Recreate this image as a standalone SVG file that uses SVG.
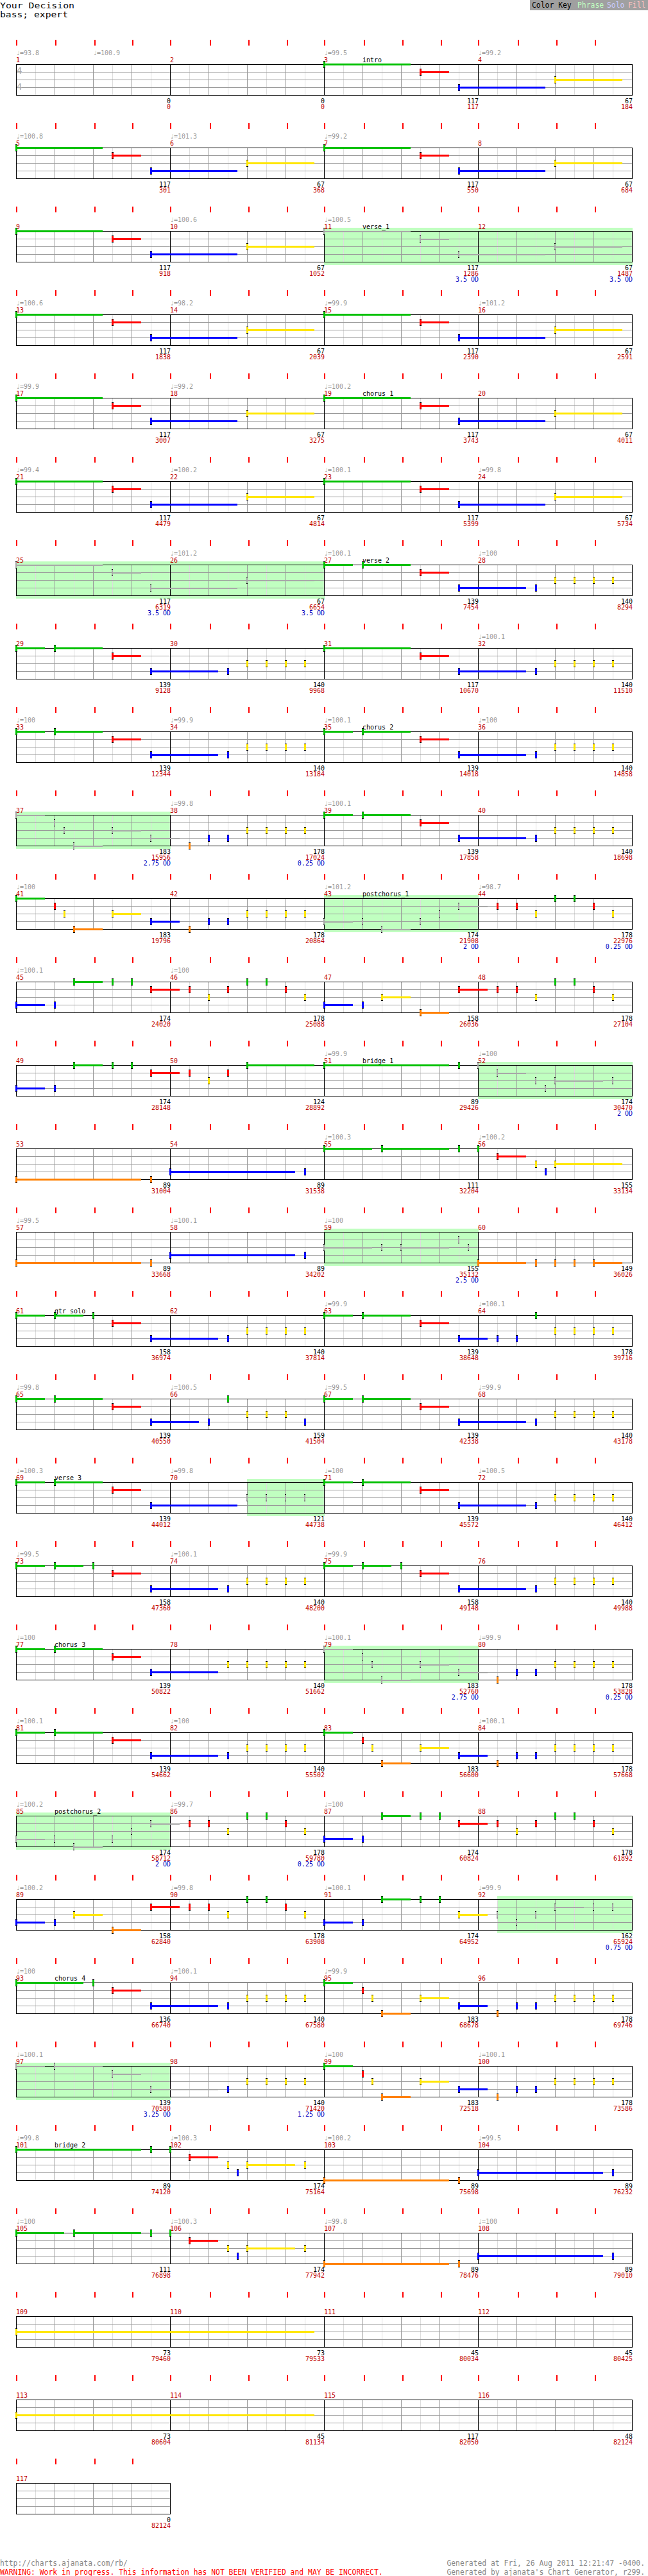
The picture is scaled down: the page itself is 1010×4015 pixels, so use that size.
<svg xmlns="http://www.w3.org/2000/svg" width="1010" height="4015" viewBox="0 0 1010 4015">
<style>
text{font-family:"DejaVu Sans Mono","Liberation Mono",monospace;font-size:10px}
.tp{fill:#999}
.mn{fill:#c00000}
.sc{text-anchor:end;fill:#000}
.cu{text-anchor:end;fill:#c00000}
.od{text-anchor:end;fill:#0000c0}
.g,.r,.y,.b,.o,.x{fill:none;stroke-width:3;shape-rendering:crispEdges}
.g{stroke:#00c000}.r{stroke:#f00}.y{stroke:#ffe600}.b{stroke:#00f}.o{stroke:#ff8000}.x{stroke:#a8a8a8;stroke-width:2}
.ph{fill:#c0ffc0}
.ft{font-size:11.4px}
</style>
<defs>
<g id="staff" shape-rendering="crispEdges" fill="none">
<path stroke="#ddd" d="M55.5 0V48M115.5 0V48M175.5 0V48M235.5 0V48M295.5 0V48M355.5 0V48M415.5 0V48M475.5 0V48M535.5 0V48M595.5 0V48M655.5 0V48M715.5 0V48M775.5 0V48M835.5 0V48M895.5 0V48M955.5 0V48"/>
<path stroke="#999" d="M85.5 0V48M145.5 0V48M205.5 0V48M325.5 0V48M385.5 0V48M445.5 0V48M565.5 0V48M625.5 0V48M685.5 0V48M805.5 0V48M865.5 0V48M925.5 0V48M25 12.5H985M25 24.5H985M25 36.5H985"/>
<path stroke="#000" d="M265.5 0V48M505.5 0V48M745.5 0V48"/>
<rect x="25.5" y="0.5" width="960" height="48" stroke="#000"/>
</g>
<g id="staff1" shape-rendering="crispEdges" fill="none">
<path stroke="#ddd" d="M55.5 0V48M115.5 0V48M175.5 0V48M235.5 0V48"/>
<path stroke="#999" d="M85.5 0V48M145.5 0V48M205.5 0V48M25 12.5H265M25 24.5H265M25 36.5H265"/>
<rect x="25.5" y="0.5" width="240" height="48" stroke="#000"/>
</g>
<g id="tk" fill="#f00" shape-rendering="crispEdges">
<rect x="25" y="-38" width="2" height="9"/><rect x="86" y="-38" width="2" height="9"/><rect x="147" y="-38" width="2" height="9"/><rect x="206" y="-38" width="2" height="9"/><rect x="265" y="-38" width="2" height="9"/><rect x="327" y="-38" width="2" height="9"/><rect x="387" y="-38" width="2" height="9"/><rect x="447" y="-38" width="2" height="9"/><rect x="505" y="-38" width="2" height="9"/><rect x="567" y="-38" width="2" height="9"/><rect x="627" y="-38" width="2" height="9"/><rect x="687" y="-38" width="2" height="9"/><rect x="745" y="-38" width="2" height="9"/><rect x="807" y="-38" width="2" height="9"/><rect x="867" y="-38" width="2" height="9"/><rect x="927" y="-38" width="2" height="9"/>
</g>
<g id="G" shape-rendering="crispEdges"><rect x="-1" y="-5" width="3" height="11"/><rect x="-1" y="-4" width="3" height="9" fill="#00c000"/></g>
<g id="R" shape-rendering="crispEdges"><rect x="-1" y="-5" width="3" height="11"/><rect x="-1" y="-4" width="3" height="9" fill="#f00"/></g>
<g id="Y" shape-rendering="crispEdges"><rect x="-1" y="-5" width="3" height="11"/><rect x="-1" y="-4" width="3" height="9" fill="#ffe600"/></g>
<g id="B" shape-rendering="crispEdges"><rect x="-1" y="-5" width="3" height="11"/><rect x="-1" y="-4" width="3" height="9" fill="#00f"/></g>
<g id="O" shape-rendering="crispEdges"><rect x="-1" y="-5" width="3" height="11"/><rect x="-1" y="-4" width="3" height="9" fill="#ff8000"/></g>
<g id="X" shape-rendering="crispEdges"><rect x="-1" y="-5" width="2" height="11"/><rect x="-1" y="-4" width="2" height="9" fill="#a8a8a8"/></g>
<g id="yt"><use href="#Y" x="385" y="24"/><use href="#Y" x="415" y="24"/><use href="#Y" x="445" y="24"/><use href="#Y" x="475" y="24"/></g>
<g id="pA"><path class="g" d="M25 .5H160"/><path class="r" d="M175 12.5H220"/><path class="b" d="M235 36.5H370"/><path class="y" d="M385 24.5H490"/><use href="#G" x="25"/><use href="#R" x="175" y="12"/><use href="#B" x="235" y="36"/><use href="#Y" x="385" y="24"/></g>
<g id="pAx"><path class="x" d="M25 .5H160M175 12.5H220M235 36.5H370M385 24.5H490"/><use href="#X" x="25"/><use href="#X" x="175" y="12"/><use href="#X" x="235" y="36"/><use href="#X" x="385" y="24"/></g>
<g id="pB"><path class="g" d="M25 .5H70M85 .5H160"/><path class="r" d="M175 12.5H220"/><path class="b" d="M235 36.5H340"/><use href="#G" x="25"/><use href="#G" x="85"/><use href="#R" x="175" y="12"/><use href="#B" x="235" y="36"/><use href="#B" x="355" y="36"/><use href="#yt"/></g>
<g id="pD"><path class="g" d="M25 .5H160"/><path class="r" d="M175 12.5H220"/><path class="b" d="M235 36.5H340"/><use href="#G" x="25"/><use href="#R" x="175" y="12"/><use href="#B" x="235" y="36"/><use href="#B" x="355" y="36"/><use href="#yt"/></g>
<g id="pE"><path class="g" d="M25 .5H70M85 .5H130"/><path class="r" d="M175 12.5H220"/><path class="b" d="M235 36.5H340"/><use href="#G" x="25"/><use href="#G" x="85"/><use href="#G" x="145"/><use href="#R" x="175" y="12"/><use href="#B" x="235" y="36"/><use href="#B" x="355" y="36"/><use href="#yt"/></g>
<g id="F2"><use href="#O" x="295" y="48"/><use href="#B" x="325" y="36"/><use href="#B" x="355" y="36"/><use href="#yt"/></g>
<g id="pF"><path class="g" d="M25 .5H70"/><path class="o" d="M115 48.5H160"/><path class="y" d="M175 24.5H220"/><path class="b" d="M235 36.5H280"/><use href="#G" x="25"/><use href="#R" x="85" y="12"/><use href="#Y" x="100" y="24"/><use href="#O" x="115" y="48"/><use href="#Y" x="175" y="24"/><use href="#B" x="235" y="36"/><use href="#F2"/></g>
<g id="pFx"><path class="x" d="M25 .5H70M115 48.5H160M175 24.5H220M235 36.5H280"/><use href="#X" x="25"/><use href="#X" x="85" y="12"/><use href="#X" x="100" y="24"/><use href="#X" x="115" y="48"/><use href="#X" x="175" y="24"/><use href="#X" x="235" y="36"/><use href="#F2"/></g>
<g id="J2"><use href="#G" x="385"/><use href="#G" x="415"/><use href="#R" x="445" y="12"/><use href="#Y" x="475" y="24"/></g>
<g id="pJ1"><path class="b" d="M25 36.5H70"/><path class="g" d="M115 .5H160"/><path class="r" d="M235 12.5H280"/><use href="#B" x="25" y="36"/><use href="#B" x="85" y="36"/><use href="#G" x="115"/><use href="#G" x="175"/><use href="#G" x="205"/><use href="#R" x="235" y="12"/><use href="#R" x="295" y="12"/><use href="#Y" x="325" y="24"/><use href="#R" x="355" y="12"/></g>
<g id="pJ"><use href="#pJ1"/><use href="#J2"/></g>
<g id="L2"><use href="#R" x="295" y="12"/><use href="#R" x="325" y="12"/><use href="#Y" x="355" y="24"/><use href="#J2"/></g>
<g id="pK"><path class="b" d="M25 36.5H70"/><path class="y" d="M115 24.5H160"/><path class="o" d="M175 48.5H220"/><path class="r" d="M235 12.5H280"/><use href="#B" x="25" y="36"/><use href="#B" x="85" y="36"/><use href="#Y" x="115" y="24"/><use href="#O" x="175" y="48"/><use href="#R" x="235" y="12"/><use href="#L2"/></g>
<g id="pL"><path class="x" d="M25 36.5H70M115 48.5H160M235 12.5H280"/><use href="#X" x="25" y="36"/><use href="#X" x="85" y="36"/><use href="#X" x="115" y="48"/><use href="#X" x="175" y="36"/><use href="#X" x="205" y="24"/><use href="#X" x="235" y="12"/><use href="#L2"/></g>
<g id="pM"><path class="o" d="M25 48.5H220"/><path class="b" d="M265 36.5H460"/><use href="#O" x="25" y="48"/><use href="#O" x="235" y="48"/><use href="#B" x="265" y="36"/><use href="#B" x="475" y="36"/></g>
<g id="pN"><path class="r" d="M295 12.5H340"/><path class="y" d="M385 24.5H460"/><path class="o" d="M505 48.5H700"/><path class="b" d="M745 36.5H940"/><use href="#G" x="235"/><use href="#G" x="265"/><use href="#R" x="295" y="12"/><use href="#Y" x="355" y="24"/><use href="#B" x="370" y="36"/><use href="#Y" x="385" y="24"/><use href="#Y" x="475" y="24"/><use href="#O" x="505" y="48"/><use href="#O" x="715" y="48"/><use href="#B" x="745" y="36"/><use href="#B" x="955" y="36"/></g>
</defs>
<rect width="1010" height="4015" fill="#fff"/>
<g id="header">
<text x="0" y="13" style="font-size:13px" textLength="116" lengthAdjust="spacingAndGlyphs">Your Decision</text>
<text x="0" y="27" style="font-size:13px" textLength="106" lengthAdjust="spacingAndGlyphs">bass; expert</text>
<rect x="826" y="0" width="184" height="16" fill="#a0a0a0"/>
<text class="ft" x="829" y="12">Color Key</text>
<text class="ft" x="900" y="12" fill="#c0ffc0">Phrase</text>
<text class="ft" x="946" y="12" fill="#ccccff">Solo</text>
<text class="ft" x="979" y="12" fill="#ffc0c0">Fill</text>
</g>

<g id="row1" transform="translate(0,100)">
<use href="#staff"/><use href="#tk"/>
<text x="26" y="15" style="font-size:14px" fill="#aaa">4</text><text x="26" y="40" style="font-size:14px" fill="#aaa">4</text>
<text class="tp" x="25" y="-14">♩=93.8</text><text class="tp" x="145" y="-14">♩=100.9</text><text class="tp" x="505" y="-14">♩=99.5</text><text class="tp" x="745" y="-14">♩=99.2</text>
<text class="mn" x="25" y="-3">1</text><text class="mn" x="265" y="-3">2</text><text class="mn" x="505" y="-3">3</text><text class="mn" x="745" y="-3">4</text>
<text x="565" y="-3">intro</text>
<use href="#pA" x="480"/>
<text class="sc" x="266" y="61">0</text><text class="cu" x="266" y="70">0</text><text class="sc" x="506" y="61">0</text><text class="cu" x="506" y="70">0</text><text class="sc" x="746" y="61">117</text><text class="cu" x="746" y="70">117</text><text class="sc" x="986" y="61">67</text><text class="cu" x="986" y="70">184</text>
</g>

<g id="row2" transform="translate(0,230)">
<use href="#staff"/><use href="#tk"/>
<text class="tp" x="25" y="-14">♩=100.8</text><text class="tp" x="265" y="-14">♩=101.3</text><text class="tp" x="505" y="-14">♩=99.2</text>
<text class="mn" x="25" y="-3">5</text><text class="mn" x="265" y="-3">6</text><text class="mn" x="505" y="-3">7</text><text class="mn" x="745" y="-3">8</text>
<use href="#pA"/><use href="#pA" x="480"/>
<text class="sc" x="266" y="61">117</text><text class="cu" x="266" y="70">301</text><text class="sc" x="506" y="61">67</text><text class="cu" x="506" y="70">368</text><text class="sc" x="746" y="61">117</text><text class="cu" x="746" y="70">550</text><text class="sc" x="986" y="61">67</text><text class="cu" x="986" y="70">684</text>
</g>

<g id="row3" transform="translate(0,360)">
<rect class="ph" x="505" y="-5" width="481" height="58"/>
<use href="#staff"/><use href="#tk"/>
<text class="tp" x="265" y="-14">♩=100.6</text><text class="tp" x="505" y="-14">♩=100.5</text>
<text class="mn" x="25" y="-3">9</text><text class="mn" x="265" y="-3">10</text><text class="mn" x="505" y="-3">11</text><text class="mn" x="745" y="-3">12</text>
<text x="565" y="-3">verse_1</text>
<use href="#pA"/><use href="#pAx" x="480"/>
<text class="sc" x="266" y="61">117</text><text class="cu" x="266" y="70">918</text><text class="sc" x="506" y="61">67</text><text class="cu" x="506" y="70">1052</text><text class="sc" x="746" y="61">117</text><text class="cu" x="746" y="70">1286</text><text class="od" x="746" y="79">3.5 OD</text><text class="sc" x="986" y="61">67</text><text class="cu" x="986" y="70">1487</text><text class="od" x="986" y="79">3.5 OD</text>
</g>

<g id="row4" transform="translate(0,490)">
<use href="#staff"/><use href="#tk"/>
<text class="tp" x="25" y="-14">♩=100.6</text><text class="tp" x="265" y="-14">♩=98.2</text><text class="tp" x="505" y="-14">♩=99.9</text><text class="tp" x="745" y="-14">♩=101.2</text>
<text class="mn" x="25" y="-3">13</text><text class="mn" x="265" y="-3">14</text><text class="mn" x="505" y="-3">15</text><text class="mn" x="745" y="-3">16</text>
<use href="#pA"/><use href="#pA" x="480"/>
<text class="sc" x="266" y="61">117</text><text class="cu" x="266" y="70">1838</text><text class="sc" x="506" y="61">67</text><text class="cu" x="506" y="70">2039</text><text class="sc" x="746" y="61">117</text><text class="cu" x="746" y="70">2390</text><text class="sc" x="986" y="61">67</text><text class="cu" x="986" y="70">2591</text>
</g>

<g id="row5" transform="translate(0,620)">
<use href="#staff"/><use href="#tk"/>
<text class="tp" x="25" y="-14">♩=99.9</text><text class="tp" x="265" y="-14">♩=99.2</text><text class="tp" x="505" y="-14">♩=100.2</text>
<text class="mn" x="25" y="-3">17</text><text class="mn" x="265" y="-3">18</text><text class="mn" x="505" y="-3">19</text><text class="mn" x="745" y="-3">20</text>
<text x="565" y="-3">chorus_1</text>
<use href="#pA"/><use href="#pA" x="480"/>
<text class="sc" x="266" y="61">117</text><text class="cu" x="266" y="70">3007</text><text class="sc" x="506" y="61">67</text><text class="cu" x="506" y="70">3275</text><text class="sc" x="746" y="61">117</text><text class="cu" x="746" y="70">3743</text><text class="sc" x="986" y="61">67</text><text class="cu" x="986" y="70">4011</text>
</g>

<g id="row6" transform="translate(0,750)">
<use href="#staff"/><use href="#tk"/>
<text class="tp" x="25" y="-14">♩=99.4</text><text class="tp" x="265" y="-14">♩=100.2</text><text class="tp" x="505" y="-14">♩=100.1</text><text class="tp" x="745" y="-14">♩=99.8</text>
<text class="mn" x="25" y="-3">21</text><text class="mn" x="265" y="-3">22</text><text class="mn" x="505" y="-3">23</text><text class="mn" x="745" y="-3">24</text>
<use href="#pA"/><use href="#pA" x="480"/>
<text class="sc" x="266" y="61">117</text><text class="cu" x="266" y="70">4479</text><text class="sc" x="506" y="61">67</text><text class="cu" x="506" y="70">4814</text><text class="sc" x="746" y="61">117</text><text class="cu" x="746" y="70">5399</text><text class="sc" x="986" y="61">67</text><text class="cu" x="986" y="70">5734</text>
</g>

<g id="row7" transform="translate(0,880)">
<rect class="ph" x="25" y="-5" width="481" height="58"/>
<use href="#staff"/><use href="#tk"/>
<text class="tp" x="265" y="-14">♩=101.2</text><text class="tp" x="505" y="-14">♩=100.1</text><text class="tp" x="745" y="-14">♩=100</text>
<text class="mn" x="25" y="-3">25</text><text class="mn" x="265" y="-3">26</text><text class="mn" x="505" y="-3">27</text><text class="mn" x="745" y="-3">28</text>
<text x="565" y="-3">verse_2</text>
<use href="#pAx"/><use href="#pB" x="480"/>
<text class="sc" x="266" y="61">117</text><text class="cu" x="266" y="70">6319</text><text class="od" x="266" y="79">3.5 OD</text><text class="sc" x="506" y="61">67</text><text class="cu" x="506" y="70">6654</text><text class="od" x="506" y="79">3.5 OD</text><text class="sc" x="746" y="61">139</text><text class="cu" x="746" y="70">7454</text><text class="sc" x="986" y="61">140</text><text class="cu" x="986" y="70">8294</text>
</g>

<g id="row8" transform="translate(0,1010)">
<use href="#staff"/><use href="#tk"/>
<text class="tp" x="745" y="-14">♩=100.1</text>
<text class="mn" x="25" y="-3">29</text><text class="mn" x="265" y="-3">30</text><text class="mn" x="505" y="-3">31</text><text class="mn" x="745" y="-3">32</text>
<use href="#pB"/><use href="#pD" x="480"/>
<text class="sc" x="266" y="61">139</text><text class="cu" x="266" y="70">9128</text><text class="sc" x="506" y="61">140</text><text class="cu" x="506" y="70">9968</text><text class="sc" x="746" y="61">117</text><text class="cu" x="746" y="70">10670</text><text class="sc" x="986" y="61">140</text><text class="cu" x="986" y="70">11510</text>
</g>

<g id="row9" transform="translate(0,1140)">
<use href="#staff"/><use href="#tk"/>
<text class="tp" x="25" y="-14">♩=100</text><text class="tp" x="265" y="-14">♩=99.9</text><text class="tp" x="505" y="-14">♩=100.1</text><text class="tp" x="745" y="-14">♩=100</text>
<text class="mn" x="25" y="-3">33</text><text class="mn" x="265" y="-3">34</text><text class="mn" x="505" y="-3">35</text><text class="mn" x="745" y="-3">36</text>
<text x="565" y="-3">chorus_2</text>
<use href="#pB"/><use href="#pB" x="480"/>
<text class="sc" x="266" y="61">139</text><text class="cu" x="266" y="70">12344</text><text class="sc" x="506" y="61">140</text><text class="cu" x="506" y="70">13184</text><text class="sc" x="746" y="61">139</text><text class="cu" x="746" y="70">14018</text><text class="sc" x="986" y="61">140</text><text class="cu" x="986" y="70">14858</text>
</g>

<g id="row10" transform="translate(0,1270)">
<rect class="ph" x="25" y="-5" width="241" height="58"/>
<use href="#staff"/><use href="#tk"/>
<text class="tp" x="265" y="-14">♩=99.8</text><text class="tp" x="505" y="-14">♩=100.1</text>
<text class="mn" x="25" y="-3">37</text><text class="mn" x="265" y="-3">38</text><text class="mn" x="505" y="-3">39</text><text class="mn" x="745" y="-3">40</text>
<use href="#pFx"/><use href="#pB" x="480"/>
<text class="sc" x="266" y="61">183</text><text class="cu" x="266" y="70">15956</text><text class="od" x="266" y="79">2.75 OD</text><text class="sc" x="506" y="61">178</text><text class="cu" x="506" y="70">17024</text><text class="od" x="506" y="79">0.25 OD</text><text class="sc" x="746" y="61">139</text><text class="cu" x="746" y="70">17858</text><text class="sc" x="986" y="61">140</text><text class="cu" x="986" y="70">18698</text>
</g>

<g id="row11" transform="translate(0,1400)">
<rect class="ph" x="505" y="-5" width="241" height="58"/>
<use href="#staff"/><use href="#tk"/>
<text class="tp" x="25" y="-14">♩=100</text><text class="tp" x="505" y="-14">♩=101.2</text><text class="tp" x="745" y="-14">♩=98.7</text>
<text class="mn" x="25" y="-3">41</text><text class="mn" x="265" y="-3">42</text><text class="mn" x="505" y="-3">43</text><text class="mn" x="745" y="-3">44</text>
<text x="565" y="-3">postchorus_1</text>
<use href="#pF"/><use href="#pL" x="480"/>
<text class="sc" x="266" y="61">183</text><text class="cu" x="266" y="70">19796</text><text class="sc" x="506" y="61">178</text><text class="cu" x="506" y="70">20864</text><text class="sc" x="746" y="61">174</text><text class="cu" x="746" y="70">21908</text><text class="od" x="746" y="79">2 OD</text><text class="sc" x="986" y="61">178</text><text class="cu" x="986" y="70">22976</text><text class="od" x="986" y="79">0.25 OD</text>
</g>

<g id="row12" transform="translate(0,1530)">
<use href="#staff"/><use href="#tk"/>
<text class="tp" x="25" y="-14">♩=100.1</text><text class="tp" x="265" y="-14">♩=100</text>
<text class="mn" x="25" y="-3">45</text><text class="mn" x="265" y="-3">46</text><text class="mn" x="505" y="-3">47</text><text class="mn" x="745" y="-3">48</text>
<use href="#pJ"/><use href="#pK" x="480"/>
<text class="sc" x="266" y="61">174</text><text class="cu" x="266" y="70">24020</text><text class="sc" x="506" y="61">178</text><text class="cu" x="506" y="70">25088</text><text class="sc" x="746" y="61">158</text><text class="cu" x="746" y="70">26036</text><text class="sc" x="986" y="61">178</text><text class="cu" x="986" y="70">27104</text>
</g>

<g id="row13" transform="translate(0,1660)">
<rect class="ph" x="745" y="-5" width="241" height="58"/>
<use href="#staff"/><use href="#tk"/>
<text class="tp" x="505" y="-14">♩=99.9</text><text class="tp" x="745" y="-14">♩=100</text>
<text class="mn" x="25" y="-3">49</text><text class="mn" x="265" y="-3">50</text><text class="mn" x="505" y="-3">51</text><text class="mn" x="745" y="-3">52</text>
<text x="565" y="-3">bridge_1</text>
<use href="#pJ1"/>
<path class="g" d="M385 .5H490M505 .5H700"/><use href="#G" x="385"/><use href="#G" x="505"/><use href="#G" x="715"/>
<path class="x" d="M775 12.5H820M865 24.5H940"/><use href="#X" x="745"/><use href="#X" x="775" y="12"/><use href="#X" x="835" y="24"/><use href="#X" x="850" y="36"/><use href="#X" x="865" y="24"/><use href="#X" x="955" y="24"/>
<text class="sc" x="266" y="61">174</text><text class="cu" x="266" y="70">28148</text><text class="sc" x="506" y="61">124</text><text class="cu" x="506" y="70">28892</text><text class="sc" x="746" y="61">89</text><text class="cu" x="746" y="70">29426</text><text class="sc" x="986" y="61">174</text><text class="cu" x="986" y="70">30470</text><text class="od" x="986" y="79">2 OD</text>
</g>

<g id="row14" transform="translate(0,1790)">
<use href="#staff"/><use href="#tk"/>
<text class="tp" x="505" y="-14">♩=100.3</text><text class="tp" x="745" y="-14">♩=100.2</text>
<text class="mn" x="25" y="-3">53</text><text class="mn" x="265" y="-3">54</text><text class="mn" x="505" y="-3">55</text><text class="mn" x="745" y="-3">56</text>
<use href="#pM"/>
<path class="g" d="M505 .5H580M595 .5H700"/><path class="r" d="M775 12.5H820"/><path class="y" d="M865 24.5H970"/>
<use href="#G" x="505"/><use href="#G" x="595"/><use href="#G" x="715"/><use href="#G" x="745"/><use href="#R" x="775" y="12"/><use href="#Y" x="835" y="24"/><use href="#B" x="850" y="36"/><use href="#Y" x="865" y="24"/>
<text class="sc" x="266" y="61">89</text><text class="cu" x="266" y="70">31004</text><text class="sc" x="506" y="61">89</text><text class="cu" x="506" y="70">31538</text><text class="sc" x="746" y="61">111</text><text class="cu" x="746" y="70">32204</text><text class="sc" x="986" y="61">155</text><text class="cu" x="986" y="70">33134</text>
</g>

<g id="row15" transform="translate(0,1920)">
<rect class="ph" x="505" y="-5" width="241" height="58"/>
<use href="#staff"/><use href="#tk"/>
<text class="tp" x="25" y="-14">♩=99.5</text><text class="tp" x="265" y="-14">♩=100.1</text><text class="tp" x="505" y="-14">♩=100</text>
<text class="mn" x="25" y="-3">57</text><text class="mn" x="265" y="-3">58</text><text class="mn" x="505" y="-3">59</text><text class="mn" x="745" y="-3">60</text>
<use href="#pM"/>
<path class="x" d="M505 24.5H580M625 24.5H700"/><use href="#X" x="505" y="24"/><use href="#X" x="595" y="24"/><use href="#X" x="625" y="24"/><use href="#X" x="715" y="12"/><use href="#X" x="730" y="24"/>
<path class="o" d="M745 48.5H820M925 48.5H970"/><use href="#O" x="745" y="48"/><use href="#O" x="835" y="48"/><use href="#O" x="865" y="48"/><use href="#O" x="895" y="48"/><use href="#O" x="925" y="48"/>
<text class="sc" x="266" y="61">89</text><text class="cu" x="266" y="70">33668</text><text class="sc" x="506" y="61">89</text><text class="cu" x="506" y="70">34202</text><text class="sc" x="746" y="61">155</text><text class="cu" x="746" y="70">35132</text><text class="od" x="746" y="79">2.5 OD</text><text class="sc" x="986" y="61">149</text><text class="cu" x="986" y="70">36026</text>
</g>

<g id="row16" transform="translate(0,2050)">
<use href="#staff"/><use href="#tk"/>
<text class="tp" x="505" y="-14">♩=99.9</text><text class="tp" x="745" y="-14">♩=100.1</text>
<text class="mn" x="25" y="-3">61</text><text class="mn" x="265" y="-3">62</text><text class="mn" x="505" y="-3">63</text><text class="mn" x="745" y="-3">64</text>
<text x="85" y="-3">gtr_solo</text>
<use href="#pE"/>
<path class="g" d="M505 .5H550M565 .5H640"/><path class="r" d="M655 12.5H700"/><path class="b" d="M715 36.5H760"/>
<use href="#G" x="505"/><use href="#G" x="565"/><use href="#R" x="655" y="12"/><use href="#B" x="715" y="36"/><use href="#B" x="775" y="36"/><use href="#B" x="805" y="36"/><use href="#G" x="835"/><use href="#yt" x="480"/>
<text class="sc" x="266" y="61">158</text><text class="cu" x="266" y="70">36974</text><text class="sc" x="506" y="61">140</text><text class="cu" x="506" y="70">37814</text><text class="sc" x="746" y="61">139</text><text class="cu" x="746" y="70">38648</text><text class="sc" x="986" y="61">178</text><text class="cu" x="986" y="70">39716</text>
</g>

<g id="row17" transform="translate(0,2180)">
<use href="#staff"/><use href="#tk"/>
<text class="tp" x="25" y="-14">♩=99.8</text><text class="tp" x="265" y="-14">♩=100.5</text><text class="tp" x="505" y="-14">♩=99.5</text><text class="tp" x="745" y="-14">♩=99.9</text>
<text class="mn" x="25" y="-3">65</text><text class="mn" x="265" y="-3">66</text><text class="mn" x="505" y="-3">67</text><text class="mn" x="745" y="-3">68</text>
<path class="g" d="M25 .5H70M85 .5H160"/><path class="r" d="M175 12.5H220"/><path class="b" d="M235 36.5H310"/>
<use href="#G" x="25"/><use href="#G" x="85"/><use href="#R" x="175" y="12"/><use href="#B" x="235" y="36"/><use href="#B" x="325" y="36"/><use href="#G" x="355"/><use href="#Y" x="385" y="24"/><use href="#Y" x="415" y="24"/><use href="#Y" x="445" y="24"/><use href="#B" x="475" y="36"/>
<use href="#pB" x="480"/>
<text class="sc" x="266" y="61">139</text><text class="cu" x="266" y="70">40550</text><text class="sc" x="506" y="61">159</text><text class="cu" x="506" y="70">41504</text><text class="sc" x="746" y="61">139</text><text class="cu" x="746" y="70">42338</text><text class="sc" x="986" y="61">140</text><text class="cu" x="986" y="70">43178</text>
</g>

<g id="row18" transform="translate(0,2310)">
<rect class="ph" x="385" y="-5" width="121" height="58"/>
<use href="#staff"/><use href="#tk"/>
<text class="tp" x="25" y="-14">♩=100.3</text><text class="tp" x="265" y="-14">♩=99.8</text><text class="tp" x="505" y="-14">♩=100</text><text class="tp" x="745" y="-14">♩=100.5</text>
<text class="mn" x="25" y="-3">69</text><text class="mn" x="265" y="-3">70</text><text class="mn" x="505" y="-3">71</text><text class="mn" x="745" y="-3">72</text>
<text x="85" y="-3">verse_3</text>
<path class="g" d="M25 .5H70M85 .5H160"/><path class="r" d="M175 12.5H220"/><path class="b" d="M235 36.5H370"/>
<use href="#G" x="25"/><use href="#G" x="85"/><use href="#R" x="175" y="12"/><use href="#B" x="235" y="36"/><use href="#X" x="385" y="24"/><use href="#X" x="415" y="24"/><use href="#X" x="445" y="24"/><use href="#X" x="475" y="24"/>
<use href="#pB" x="480"/>
<text class="sc" x="266" y="61">139</text><text class="cu" x="266" y="70">44012</text><text class="sc" x="506" y="61">121</text><text class="cu" x="506" y="70">44738</text><text class="sc" x="746" y="61">139</text><text class="cu" x="746" y="70">45572</text><text class="sc" x="986" y="61">140</text><text class="cu" x="986" y="70">46412</text>
</g>

<g id="row19" transform="translate(0,2440)">
<use href="#staff"/><use href="#tk"/>
<text class="tp" x="25" y="-14">♩=99.5</text><text class="tp" x="265" y="-14">♩=100.1</text><text class="tp" x="505" y="-14">♩=99.9</text>
<text class="mn" x="25" y="-3">73</text><text class="mn" x="265" y="-3">74</text><text class="mn" x="505" y="-3">75</text><text class="mn" x="745" y="-3">76</text>
<use href="#pE"/><use href="#pE" x="480"/>
<text class="sc" x="266" y="61">158</text><text class="cu" x="266" y="70">47360</text><text class="sc" x="506" y="61">140</text><text class="cu" x="506" y="70">48200</text><text class="sc" x="746" y="61">158</text><text class="cu" x="746" y="70">49148</text><text class="sc" x="986" y="61">140</text><text class="cu" x="986" y="70">49988</text>
</g>

<g id="row20" transform="translate(0,2570)">
<rect class="ph" x="505" y="-5" width="241" height="58"/>
<use href="#staff"/><use href="#tk"/>
<text class="tp" x="25" y="-14">♩=100</text><text class="tp" x="505" y="-14">♩=100.1</text><text class="tp" x="745" y="-14">♩=99.9</text>
<text class="mn" x="25" y="-3">77</text><text class="mn" x="265" y="-3">78</text><text class="mn" x="505" y="-3">79</text><text class="mn" x="745" y="-3">80</text>
<text x="85" y="-3">chorus_3</text>
<path class="g" d="M25 .5H70M85 .5H160"/><path class="r" d="M175 12.5H220"/><path class="b" d="M235 36.5H340"/>
<use href="#G" x="25"/><use href="#G" x="85"/><use href="#R" x="175" y="12"/><use href="#B" x="235" y="36"/><use href="#Y" x="355" y="24"/><use href="#yt"/>
<use href="#pFx" x="480"/>
<text class="sc" x="266" y="61">139</text><text class="cu" x="266" y="70">50822</text><text class="sc" x="506" y="61">140</text><text class="cu" x="506" y="70">51662</text><text class="sc" x="746" y="61">183</text><text class="cu" x="746" y="70">52760</text><text class="od" x="746" y="79">2.75 OD</text><text class="sc" x="986" y="61">178</text><text class="cu" x="986" y="70">53828</text><text class="od" x="986" y="79">0.25 OD</text>
</g>

<g id="row21" transform="translate(0,2700)">
<use href="#staff"/><use href="#tk"/>
<text class="tp" x="25" y="-14">♩=100.1</text><text class="tp" x="265" y="-14">♩=100</text><text class="tp" x="745" y="-14">♩=100.1</text>
<text class="mn" x="25" y="-3">81</text><text class="mn" x="265" y="-3">82</text><text class="mn" x="505" y="-3">83</text><text class="mn" x="745" y="-3">84</text>
<use href="#pB"/><use href="#pF" x="480"/>
<text class="sc" x="266" y="61">139</text><text class="cu" x="266" y="70">54662</text><text class="sc" x="506" y="61">140</text><text class="cu" x="506" y="70">55502</text><text class="sc" x="746" y="61">183</text><text class="cu" x="746" y="70">56600</text><text class="sc" x="986" y="61">178</text><text class="cu" x="986" y="70">57668</text>
</g>

<g id="row22" transform="translate(0,2830)">
<rect class="ph" x="25" y="-5" width="241" height="58"/>
<use href="#staff"/><use href="#tk"/>
<text class="tp" x="25" y="-14">♩=100.2</text><text class="tp" x="265" y="-14">♩=99.7</text><text class="tp" x="505" y="-14">♩=100</text>
<text class="mn" x="25" y="-3">85</text><text class="mn" x="265" y="-3">86</text><text class="mn" x="505" y="-3">87</text><text class="mn" x="745" y="-3">88</text>
<text x="85" y="-3">postchorus_2</text>
<use href="#pL"/><use href="#pJ" x="480"/>
<text class="sc" x="266" y="61">174</text><text class="cu" x="266" y="70">58712</text><text class="od" x="266" y="79">2 OD</text><text class="sc" x="506" y="61">178</text><text class="cu" x="506" y="70">59780</text><text class="od" x="506" y="79">0.25 OD</text><text class="sc" x="746" y="61">174</text><text class="cu" x="746" y="70">60824</text><text class="sc" x="986" y="61">178</text><text class="cu" x="986" y="70">61892</text>
</g>

<g id="row23" transform="translate(0,2960)">
<rect class="ph" x="775" y="-5" width="211" height="58"/>
<use href="#staff"/><use href="#tk"/>
<text class="tp" x="25" y="-14">♩=100.2</text><text class="tp" x="265" y="-14">♩=99.8</text><text class="tp" x="505" y="-14">♩=100.1</text><text class="tp" x="745" y="-14">♩=99.9</text>
<text class="mn" x="25" y="-3">89</text><text class="mn" x="265" y="-3">90</text><text class="mn" x="505" y="-3">91</text><text class="mn" x="745" y="-3">92</text>
<use href="#pK"/>
<path class="b" d="M505 36.5H550"/><path class="g" d="M595 .5H640"/><path class="y" d="M715 24.5H760"/>
<use href="#B" x="505" y="36"/><use href="#B" x="565" y="36"/><use href="#G" x="595"/><use href="#G" x="655"/><use href="#G" x="685"/><use href="#Y" x="715" y="24"/>
<path class="x" d="M865 12.5H910"/><use href="#X" x="775" y="24"/><use href="#X" x="805" y="36"/><use href="#X" x="835" y="24"/><use href="#X" x="865" y="12"/><use href="#X" x="925" y="12"/><use href="#X" x="955" y="12"/>
<text class="sc" x="266" y="61">158</text><text class="cu" x="266" y="70">62840</text><text class="sc" x="506" y="61">178</text><text class="cu" x="506" y="70">63908</text><text class="sc" x="746" y="61">174</text><text class="cu" x="746" y="70">64952</text><text class="sc" x="986" y="61">162</text><text class="cu" x="986" y="70">65924</text><text class="od" x="986" y="79">0.75 OD</text>
</g>

<g id="row24" transform="translate(0,3090)">
<use href="#staff"/><use href="#tk"/>
<text class="tp" x="25" y="-14">♩=100</text><text class="tp" x="265" y="-14">♩=100.1</text><text class="tp" x="505" y="-14">♩=99.9</text>
<text class="mn" x="25" y="-3">93</text><text class="mn" x="265" y="-3">94</text><text class="mn" x="505" y="-3">95</text><text class="mn" x="745" y="-3">96</text>
<text x="85" y="-3">chorus_4</text>
<path class="g" d="M25 .5H130"/><path class="r" d="M175 12.5H220"/><path class="b" d="M235 36.5H340"/>
<use href="#G" x="25"/><use href="#G" x="145"/><use href="#R" x="175" y="12"/><use href="#B" x="235" y="36"/><use href="#B" x="355" y="36"/><use href="#yt"/>
<use href="#pF" x="480"/>
<text class="sc" x="266" y="61">136</text><text class="cu" x="266" y="70">66740</text><text class="sc" x="506" y="61">140</text><text class="cu" x="506" y="70">67580</text><text class="sc" x="746" y="61">183</text><text class="cu" x="746" y="70">68678</text><text class="sc" x="986" y="61">178</text><text class="cu" x="986" y="70">69746</text>
</g>

<g id="row25" transform="translate(0,3220)">
<rect class="ph" x="25" y="-5" width="241" height="58"/>
<use href="#staff"/><use href="#tk"/>
<text class="tp" x="25" y="-14">♩=100.1</text><text class="tp" x="505" y="-14">♩=100</text><text class="tp" x="745" y="-14">♩=100.1</text>
<text class="mn" x="25" y="-3">97</text><text class="mn" x="265" y="-3">98</text><text class="mn" x="505" y="-3">99</text><text class="mn" x="745" y="-3">100</text>
<path class="x" d="M25 .5H70M85 .5H160M175 12.5H220M235 36.5H340"/><use href="#X" x="25"/><use href="#X" x="85"/><use href="#X" x="175" y="12"/><use href="#X" x="235" y="36"/>
<use href="#B" x="355" y="36"/><use href="#yt"/>
<use href="#pF" x="480"/>
<text class="sc" x="266" y="61">139</text><text class="cu" x="266" y="70">70580</text><text class="od" x="266" y="79">3.25 OD</text><text class="sc" x="506" y="61">140</text><text class="cu" x="506" y="70">71420</text><text class="od" x="506" y="79">1.25 OD</text><text class="sc" x="746" y="61">183</text><text class="cu" x="746" y="70">72518</text><text class="sc" x="986" y="61">178</text><text class="cu" x="986" y="70">73586</text>
</g>

<g id="row26" transform="translate(0,3350)">
<use href="#staff"/><use href="#tk"/>
<text class="tp" x="25" y="-14">♩=99.8</text><text class="tp" x="265" y="-14">♩=100.3</text><text class="tp" x="505" y="-14">♩=100.2</text><text class="tp" x="745" y="-14">♩=99.5</text>
<text class="mn" x="25" y="-3">101</text><text class="mn" x="265" y="-3">102</text><text class="mn" x="505" y="-3">103</text><text class="mn" x="745" y="-3">104</text>
<text x="85" y="-3">bridge_2</text>
<path class="g" d="M25 .5H220"/><use href="#G" x="25"/><use href="#pN"/>
<text class="sc" x="266" y="61">89</text><text class="cu" x="266" y="70">74120</text><text class="sc" x="506" y="61">174</text><text class="cu" x="506" y="70">75164</text><text class="sc" x="746" y="61">89</text><text class="cu" x="746" y="70">75698</text><text class="sc" x="986" y="61">89</text><text class="cu" x="986" y="70">76232</text>
</g>

<g id="row27" transform="translate(0,3480)">
<use href="#staff"/><use href="#tk"/>
<text class="tp" x="25" y="-14">♩=100</text><text class="tp" x="265" y="-14">♩=100.3</text><text class="tp" x="505" y="-14">♩=99.8</text><text class="tp" x="745" y="-14">♩=100</text>
<text class="mn" x="25" y="-3">105</text><text class="mn" x="265" y="-3">106</text><text class="mn" x="505" y="-3">107</text><text class="mn" x="745" y="-3">108</text>
<path class="g" d="M25 .5H100M115 .5H220"/><use href="#G" x="25"/><use href="#G" x="115"/><use href="#pN"/>
<text class="sc" x="266" y="61">111</text><text class="cu" x="266" y="70">76898</text><text class="sc" x="506" y="61">174</text><text class="cu" x="506" y="70">77942</text><text class="sc" x="746" y="61">89</text><text class="cu" x="746" y="70">78476</text><text class="sc" x="986" y="61">89</text><text class="cu" x="986" y="70">79010</text>
</g>

<g id="row28" transform="translate(0,3610)">
<use href="#staff"/><use href="#tk"/>
<text class="mn" x="25" y="-3">109</text><text class="mn" x="265" y="-3">110</text><text class="mn" x="505" y="-3">111</text><text class="mn" x="745" y="-3">112</text>
<path class="y" d="M25 24.5H490"/><use href="#Y" x="25" y="24"/>
<text class="sc" x="266" y="61">73</text><text class="cu" x="266" y="70">79460</text><text class="sc" x="506" y="61">73</text><text class="cu" x="506" y="70">79533</text><text class="sc" x="746" y="61">45</text><text class="cu" x="746" y="70">80034</text><text class="sc" x="986" y="61">45</text><text class="cu" x="986" y="70">80425</text>
</g>

<g id="row29" transform="translate(0,3740)">
<use href="#staff"/><use href="#tk"/>
<text class="mn" x="25" y="-3">113</text><text class="mn" x="265" y="-3">114</text><text class="mn" x="505" y="-3">115</text><text class="mn" x="745" y="-3">116</text>
<path class="y" d="M25 24.5H490"/><use href="#Y" x="25" y="24"/>
<text class="sc" x="266" y="61">73</text><text class="cu" x="266" y="70">80604</text><text class="sc" x="506" y="61">45</text><text class="cu" x="506" y="70">81134</text><text class="sc" x="746" y="61">117</text><text class="cu" x="746" y="70">82050</text><text class="sc" x="986" y="61">48</text><text class="cu" x="986" y="70">82124</text>
</g>

<g id="row30" transform="translate(0,3870)">
<use href="#staff1"/>
<g fill="#f00"><rect x="25" y="-38" width="2" height="9"/><rect x="86" y="-38" width="2" height="9"/><rect x="147" y="-38" width="2" height="9"/><rect x="206" y="-38" width="2" height="9"/></g>
<text class="mn" x="25" y="-3">117</text>
<text class="sc" x="266" y="61">0</text><text class="cu" x="266" y="70">82124</text>
</g>

<g id="footer">
<text class="ft" x="0" y="3999" fill="#888">http://charts.ajanata.com/rb/</text>
<text class="ft" x="0" y="4013" fill="#f00">WARNING: Work in progress. This information has NOT BEEN VERIFIED and MAY BE INCORRECT.</text>
<text class="ft" x="1005" y="3999" fill="#888" text-anchor="end">Generated at Fri, 26 Aug 2011 12:21:47 -0400.</text>
<text class="ft" x="1005" y="4013" fill="#888" text-anchor="end">Generated by ajanata's Chart Generator, r299.</text>
</g>
</svg>
